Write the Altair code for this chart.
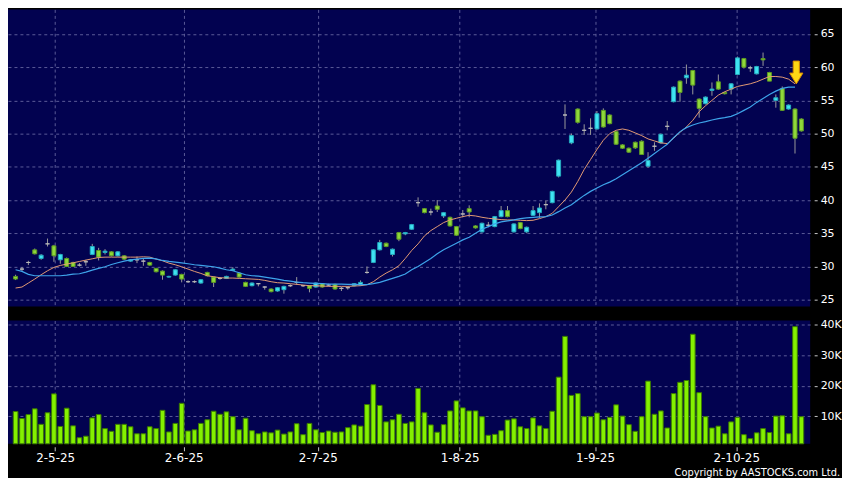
import altair as alt
import pandas as pd

# ---------------- data ----------------
opens = [28.5, 29.6, 30.6, 32.5, 31.2, 33.4, 33.1, 31.0, 31.2, 30.6,
         30.2, 30.7, 31.8, 32.4, 32.1, 32.2, 31.6, 31.6, 30.8, 31.0,
         30.8, 30.6, 29.7, 29.3, 28.4, 28.7, 28.8, 27.7, 27.7, 27.5,
         29.1, 28.4, 28.2, 28.2, 29.4, 29.0, 27.6, 27.1, 27.4, 26.9,
         26.6, 26.3, 26.5, 27.1, 27.6, 27.1, 27.1, 26.9, 27.4, 27.2,
         27.3, 26.7, 26.8, 27.1, 27.2, 29.1, 30.6, 32.5, 33.5, 31.8,
         35.1, 34.9, 35.6, 39.6, 38.7, 38.2, 39.1, 37.6, 37.4, 36.0,
         37.9, 38.7, 36.1, 35.2, 36.2, 36.0, 37.5, 38.4, 35.2, 36.6,
         35.2, 37.7, 38.1, 39.3, 39.6, 43.6, 52.8, 48.6, 53.7, 50.5,
         50.8, 50.7, 53.5, 52.8, 50.3, 48.3, 47.8, 48.7, 48.85, 45.1,
         48.1, 48.6, 51.1, 54.8, 57.9, 58.4, 59.5, 55.2, 54.5, 56.5,
         57.8, 56.2, 56.7, 58.9, 61.3, 59.9, 59.0, 61.3, 59.2, 55.0,
         56.8, 53.7, 53.7, 52.2]
highs = [28.75, 29.9, 30.85, 32.7, 31.85, 34.2, 33.25, 31.9, 31.35, 30.7,
         30.5, 31.0, 33.4, 32.8, 32.6, 32.3, 32.3, 31.7, 31.1, 31.5,
         31.2, 30.7, 29.8, 29.4, 28.6, 29.6, 28.9, 27.9, 27.9, 28.1,
         29.2, 28.5, 28.4, 28.6, 29.9, 29.1, 27.7, 27.6, 27.5, 27.0,
         26.7, 26.9, 27.1, 27.3, 28.4, 27.2, 27.2, 27.6, 27.5, 27.4,
         27.4, 26.9, 27.0, 27.5, 27.9, 30.0, 32.6, 34.0, 33.6, 32.7,
         35.2, 35.2, 36.4, 40.4, 38.8, 38.7, 40.0, 38.2, 37.5, 36.1,
         38.5, 39.2, 36.2, 36.6, 36.7, 37.6, 39.1, 39.1, 36.5, 36.7,
         36.0, 39.1, 39.5, 39.9, 41.4, 46.1, 54.4, 50.0, 53.8, 51.4,
         52.3, 53.4, 53.8, 52.9, 50.4, 48.4, 47.9, 48.8, 49.0, 47.2,
         48.7, 50.0, 51.9, 57.1, 58.0, 60.4, 59.6, 55.3, 55.6, 57.7,
         58.9, 56.3, 57.6, 61.6, 61.4, 60.2, 60.2, 62.2, 59.3, 55.9,
         57.1, 54.4, 53.8, 52.3]
lows = [27.95, 29.25, 30.2, 31.8, 31.0, 33.0, 30.7, 30.4, 29.9, 29.9,
        30.0, 30.1, 31.7, 30.9, 31.8, 31.5, 31.5, 31.0, 30.7, 30.5,
        30.1, 30.1, 29.1, 28.0, 28.3, 28.6, 27.6, 27.5, 27.5, 27.4,
        28.5, 26.9, 28.0, 28.1, 29.3, 28.3, 26.9, 27.0, 27.0, 26.5,
        26.1, 26.2, 25.9, 26.9, 27.2, 26.9, 26.1, 26.8, 26.8, 27.0,
        26.5, 26.3, 26.5, 27.0, 27.1, 28.9, 30.5, 32.4, 32.9, 31.5,
        33.8, 34.7, 35.5, 39.0, 38.0, 37.7, 38.2, 37.3, 36.0, 34.6,
        37.4, 37.4, 35.7, 35.1, 35.9, 35.9, 37.4, 37.4, 35.1, 35.6,
        35.0, 37.6, 37.3, 38.6, 39.5, 43.4, 50.7, 48.4, 51.5, 49.8,
        49.8, 50.6, 50.9, 51.4, 48.3, 47.7, 47.1, 47.7, 46.8, 44.85,
        47.4, 48.5, 50.5, 54.7, 54.8, 57.5, 55.9, 52.4, 54.4, 55.7,
        56.6, 55.9, 55.9, 58.8, 59.8, 59.3, 58.9, 60.2, 57.9, 53.9,
        53.4, 53.6, 47.0, 50.3]
closes = [28.1, 29.6, 30.6, 31.9, 31.7, 33.4, 31.6, 31.8, 30.0, 30.0,
          30.2, 30.7, 33.0, 31.4, 32.3, 31.6, 32.2, 31.1, 31.0, 31.0,
          30.8, 30.2, 29.2, 28.7, 28.5, 29.5, 28.1, 27.7, 27.7, 28.0,
          28.6, 27.6, 28.2, 28.5, 29.6, 28.4, 27.0, 27.5, 27.4, 26.9,
          26.2, 26.8, 27.0, 27.1, 27.6, 27.1, 26.7, 27.5, 26.9, 27.2,
          26.6, 26.7, 26.8, 27.4, 27.6, 29.1, 32.5, 33.6, 33.0, 32.6,
          34.1, 35.1, 36.3, 39.6, 38.1, 38.2, 38.6, 38.1, 36.1, 34.7,
          37.9, 38.2, 35.8, 36.5, 36.2, 37.5, 38.4, 37.5, 36.4, 35.7,
          35.9, 38.4, 38.8, 39.3, 41.3, 46.0, 52.8, 49.7, 51.7, 50.5,
          50.8, 53.0, 51.0, 51.5, 48.4, 47.8, 47.2, 47.85, 46.85, 45.95,
          48.1, 49.9, 51.1, 57.0, 56.2, 58.8, 57.3, 53.8, 55.5, 56.7,
          56.7, 56.0, 57.5, 61.4, 60.0, 59.9, 60.1, 61.1, 57.9, 55.4,
          53.5, 54.3, 49.3, 50.4]
volumes_k = [11.5, 9.2, 10.5, 12.4, 7.3, 11.1, 17.3, 6.6, 12.6, 6.8,
             2.9, 3.4, 9.4, 10.5, 5.9, 5.0, 7.3, 7.3, 6.5, 4.2,
             4.2, 6.5, 5.9, 11.9, 4.8, 7.6, 14.2, 5.1, 5.5, 7.6,
             8.8, 11.6, 10.6, 11.4, 9.8, 5.5, 9.3, 5.2, 4.2, 4.8,
             4.5, 5.4, 4.1, 4.8, 7.5, 3.9, 7.6, 5.5, 4.6, 5.1,
             4.7, 4.8, 6.2, 7.1, 6.7, 13.8, 20.3, 13.5, 8.1, 8.8,
             10.6, 7.6, 8.1, 19.1, 11.1, 7.1, 4.7, 7.2, 11.7, 15.0,
             12.7, 11.7, 11.7, 9.8, 3.7, 4.0, 5.2, 8.7, 9.1, 6.5,
             5.9, 9.4, 6.8, 5.9, 11.6, 22.8, 36.2, 16.8, 17.4, 9.8,
             9.8, 11.0, 8.8, 9.6, 13.7, 10.0, 7.2, 5.0, 9.8, 21.5,
             10.6, 11.7, 6.1, 17.4, 21.1, 21.7, 36.9, 17.7, 9.8, 6.1,
             6.7, 4.2, 8.1, 9.6, 3.9, 2.6, 4.5, 5.9, 4.6, 10.0,
             10.1, 4.2, 39.4, 9.8]
ma_fast = [26.75, 26.9, 27.5, 28.1, 28.75, 29.35, 29.85, 30.15, 30.35, 30.55,
           30.75, 30.95, 31.15, 31.35, 31.4, 31.4, 31.4, 31.4, 31.4, 31.4,
           31.45, 31.4, 31.1, 30.85, 30.5, 30.25, 29.95, 29.6, 29.25, 28.95,
           28.6, 28.45, 28.3, 28.25, 28.25, 28.2, 28.15, 28.1, 28.05, 27.9,
           27.7, 27.55, 27.5, 27.4, 27.3, 27.2, 27.1, 27.1, 27.05, 27.0,
           27.0, 27.0, 27.0, 27.05, 27.1, 27.25, 27.7, 28.4, 29.0, 29.5,
           30.1, 31.2, 32.4, 33.4, 34.6, 35.4, 36.0, 36.6, 37.0, 37.25,
           37.5, 37.7, 37.6, 37.4, 37.25, 37.15, 37.05, 37.0, 37.0, 36.95,
           36.9, 36.95, 37.2, 37.5, 38.0, 39.0, 40.0, 41.2, 42.8, 44.6,
           46.1, 47.6, 49.0, 50.0, 50.5, 50.7, 50.5, 50.1, 49.7, 49.2,
           48.9, 48.6, 48.5, 49.3, 50.2, 51.0, 52.0, 53.3, 54.2, 55.0,
           55.8, 56.3, 56.7, 57.1, 57.3, 57.5, 57.8, 58.2, 58.6, 58.6,
           58.5, 58.2, 57.5, None]
ma_slow = [29.5, 29.25, 28.8, 28.6, 28.6, 28.6, 28.6, 28.6, 28.7, 28.85,
           28.9, 29.15, 29.45, 29.7, 29.95, 30.3, 30.55, 30.8, 31.0, 31.1,
           31.2, 31.25, 31.15, 30.9, 30.75, 30.65, 30.55, 30.4, 30.25, 30.15,
           30.05, 29.95, 29.75, 29.5, 29.35, 29.05, 28.75, 28.6, 28.55, 28.4,
           28.25, 28.1, 27.9, 27.8, 27.65, 27.55, 27.5, 27.45, 27.4, 27.35,
           27.35, 27.35, 27.3, 27.3, 27.25, 27.25, 27.4, 27.6, 27.9, 28.2,
           28.5, 28.85, 29.5, 30.0, 30.6, 31.2, 31.9, 32.5, 33.0, 33.5,
           34.0, 34.4, 35.0, 35.6, 36.0, 36.4, 36.7, 36.85, 37.0, 37.2,
           37.3, 37.4, 37.45, 37.5, 37.75, 38.25, 38.8, 39.3, 40.0, 40.7,
           41.3, 41.8, 42.3, 42.7, 43.2, 43.8, 44.4, 45.0, 45.6, 46.3,
           47.0, 47.7, 48.4, 49.4, 50.3, 50.9, 51.3, 51.6, 51.8, 52.05,
           52.25, 52.4, 52.6, 53.0, 53.5, 54.0, 54.7, 55.3, 55.9, 56.4,
           56.8, 57.0, 57.0, None]

date_labels = ["2-5-25", "2-6-25", "2-7-25", "1-8-25", "1-9-25", "2-10-25"]
date_label_pos = [6.2, 26.3, 47.3, 69.5, 90.7, 112.8]
price_ticks = [25, 30, 35, 40, 45, 50, 55, 60, 65]
volume_ticks = [10, 20, 30, 40]
arrow_idx = [122.2]
arrow_price = [59.2]
copyright_text = ["Copyright by AASTOCKS.com Ltd."]

# ---------------- tables ----------------
n = len(closes)
df = pd.DataFrame({
    "idx": list(range(n)),
    "open": opens, "high": highs, "low": lows, "close": closes,
    "vol": volumes_k,
    "ma_fast": pd.array(ma_fast, dtype="Float64").astype(float),
    "ma_slow": pd.array(ma_slow, dtype="Float64").astype(float),
})
df["dir"] = ["up" if c > o else ("down" if c < o else "flat") for o, c in zip(opens, closes)]
arrow_df = pd.DataFrame({"idx": arrow_idx, "price": arrow_price})
copy_df = pd.DataFrame({"t": copyright_text})

# ---------------- styling ----------------
FONT = "DejaVu Sans"
GRID = "#5c5c98"
PANEL = "#020250"
W = 807

x_scale = alt.Scale(domain=[-0.41, 123.6], nice=False, zero=False)
label_expr = ("[" + ",".join("'%s'" % s for s in date_labels) + "][indexof(["
              + ",".join(str(p) for p in date_label_pos) + "], datum.value)]")

x_top = alt.X("idx:Q", scale=x_scale, title=None,
              axis=alt.Axis(values=date_label_pos, labels=False, ticks=False, domain=False,
                            grid=True, gridDash=[3, 3], gridColor=GRID, gridWidth=1))
x_bot = alt.X("idx:Q", scale=x_scale, title=None,
              axis=alt.Axis(values=date_label_pos, labelExpr=label_expr, domain=False,
                            grid=True, gridDash=[3, 3], gridColor=GRID, gridWidth=1,
                            ticks=True, tickColor="#c8c8c8", tickSize=4, offset=3,
                            labelPadding=2, labelColor="white", labelFontSize=12,
                            labelFont=FONT, labelFlush=False))

p_scale = alt.Scale(domain=[23.95, 68.7], nice=False, zero=False)
p_axis = alt.Axis(orient="right", values=price_ticks, title=None, domain=False,
                  grid=True, gridDash=[3, 3], gridColor=GRID, gridWidth=1,
                  tickColor="#c8c8c8", tickSize=3, offset=4, labelPadding=3,
                  labelColor="white", labelFontSize=11, labelFont=FONT)

base = alt.Chart(df)
wicks = base.mark_rule(color="#9a9a9a", strokeWidth=1).encode(
    x=x_top, y=alt.Y("low:Q", scale=p_scale, axis=p_axis, title=None), y2="high:Q")
bodies = base.mark_bar(size=4, strokeWidth=1).encode(
    x=x_top,
    y=alt.Y("open:Q", scale=p_scale, axis=p_axis, title=None),
    y2="close:Q",
    fill=alt.Fill("dir:N", legend=None,
                  scale=alt.Scale(domain=["up", "down", "flat"],
                                  range=["#3fe3f2", "#8fd83a", "#b0b0b0"])),
    stroke=alt.Stroke("dir:N", legend=None,
                      scale=alt.Scale(domain=["up", "down", "flat"],
                                      range=["#25a9bd", "#5d9a22", "#b8b8b8"])),
)
line_fast = base.mark_line(color="#e39a74", strokeWidth=1).encode(
    x=x_top, y=alt.Y("ma_fast:Q", scale=p_scale, axis=p_axis, title=None))
line_slow = base.mark_line(color="#3ea4ea", strokeWidth=1.2).encode(
    x=x_top, y=alt.Y("ma_slow:Q", scale=p_scale, axis=p_axis, title=None))
arrow_path = "M-0.27,-1L0.27,-1L0.27,0.05L0.58,0.05L0,1L-0.58,0.05L-0.27,0.05Z"
arrow = alt.Chart(arrow_df).mark_point(
    shape=arrow_path, filled=True, size=529, fill="#ffd814", stroke="#d98c00",
    strokeWidth=1, opacity=1).encode(
    x=x_top, y=alt.Y("price:Q", scale=p_scale, axis=p_axis, title=None))

price = alt.layer(wicks, bodies, line_fast, line_slow, arrow).properties(width=W, height=299)

v_scale = alt.Scale(domain=[0.9, 41.4], nice=False, zero=False, clamp=True)
v_axis = alt.Axis(orient="right", values=volume_ticks, labelExpr="datum.value + 'K'",
                  title=None, domain=False, grid=True, gridDash=[3, 3], gridColor=GRID,
                  gridWidth=1, tickColor="#c8c8c8", tickSize=3, offset=4, labelPadding=3,
                  labelColor="white", labelFontSize=11, labelFont=FONT)
vol_bars = base.mark_bar(size=4.7, fill="#84f000", stroke="#3a7a00", strokeWidth=1).encode(
    x=x_bot, y=alt.Y("vol:Q", scale=v_scale, axis=v_axis, title=None))
copy_text = alt.Chart(copy_df).mark_text(
    align="right", baseline="middle", color="white", fontSize=11,
    font="DejaVu Sans Condensed, DejaVu Sans").encode(
    x=alt.value(837), y=alt.value(153), text="t:N")
volume = alt.layer(vol_bars, copy_text).properties(width=W, height=124)

chart = alt.vconcat(price, volume, spacing=12).resolve_scale(
    y="independent", x="shared"
).properties(padding=0, background="black").configure_view(fill=PANEL, stroke=None)

chart.save("out.html", embed_options={"renderer": "svg", "actions": False})
